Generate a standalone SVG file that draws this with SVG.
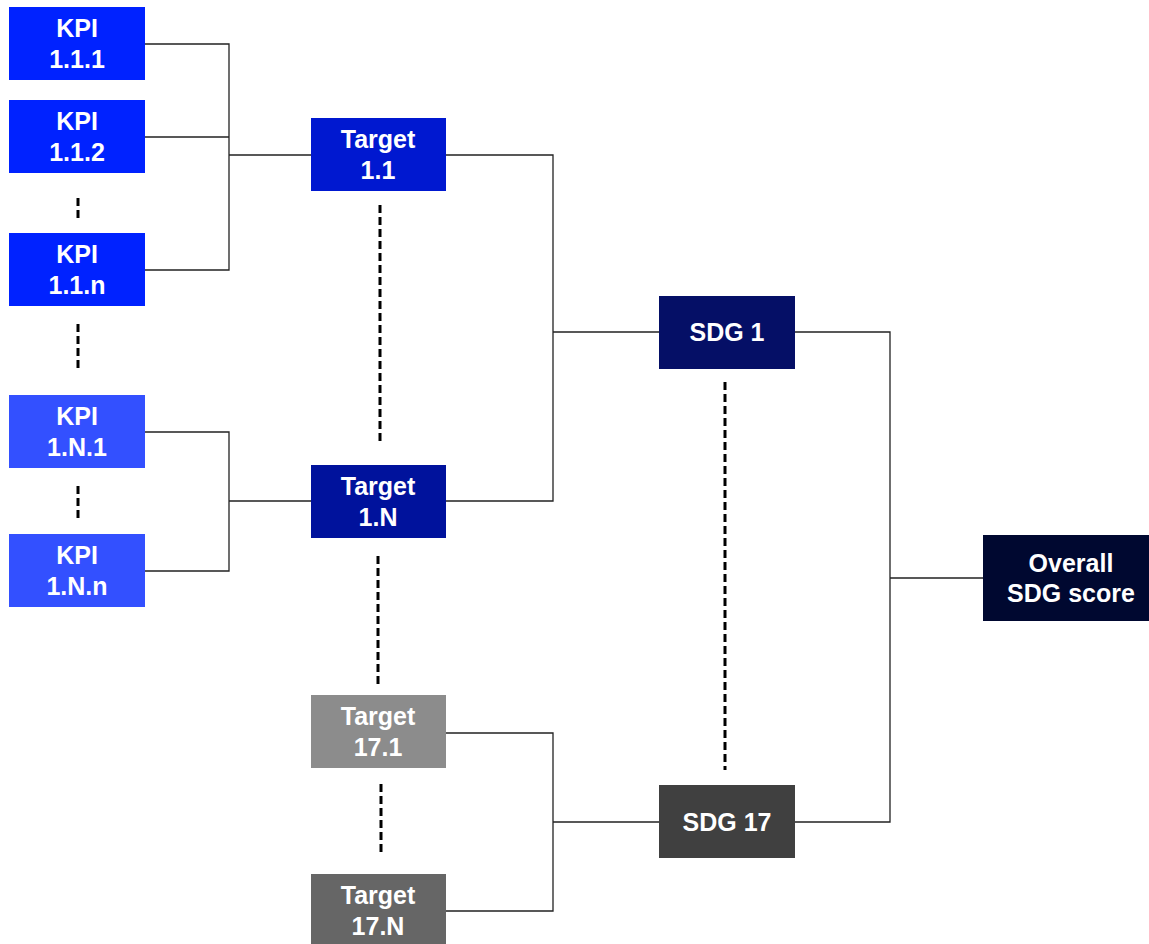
<svg xmlns="http://www.w3.org/2000/svg" width="1149" height="944" viewBox="0 0 1149 944">
<style>
text{font-family:"Liberation Sans",Arial,sans-serif;font-weight:bold;font-size:25px;fill:#fff;text-anchor:middle}
.c{stroke:#222;stroke-width:1.3;fill:none}
.d{stroke:#000;stroke-width:3;stroke-dasharray:8,4;fill:none}
</style>
<rect width="1149" height="944" fill="#fff"/>
<g id="connectors">
<path class="c" d="M145,44H229V270H145M145,137H229M229,155H311"/>
<path class="c" d="M145,432H229V571H145M229,501H311"/>
<path class="c" d="M445,155H553V501H445M553,332H659"/>
<path class="c" d="M445,733H553V911H445M553,822H659"/>
<path class="c" d="M795,332H890V822H795M890,578H983"/>
<path class="d" d="M78,198V222M78,324V372M78,486V520M380,205V444M378,556V687M381,784V856M725,382V770"/>
</g>
<g id="kpi111"><rect x="9" y="7" width="136" height="73" fill="#0022FF"/><text x="77" y="37">KPI</text><text x="77" y="68">1.1.1</text></g>
<g id="kpi112"><rect x="9" y="100" width="136" height="73" fill="#0022FF"/><text x="77" y="130">KPI</text><text x="77" y="161">1.1.2</text></g>
<g id="kpi11n"><rect x="9" y="233" width="136" height="73" fill="#0022FF"/><text x="77" y="263">KPI</text><text x="77" y="294">1.1.n</text></g>
<g id="kpi1N1"><rect x="9" y="395" width="136" height="73" fill="#3350FF"/><text x="77" y="425">KPI</text><text x="77" y="456">1.N.1</text></g>
<g id="kpi1Nn"><rect x="9" y="534" width="136" height="73" fill="#3350FF"/><text x="77" y="564">KPI</text><text x="77" y="595">1.N.n</text></g>
<g id="t11"><rect x="311" y="118" width="135" height="73" fill="#0018D0"/><text x="378" y="148">Target</text><text x="378" y="179">1.1</text></g>
<g id="t1N"><rect x="311" y="465" width="135" height="73" fill="#00129C"/><text x="378" y="495">Target</text><text x="378" y="526">1.N</text></g>
<g id="t171"><rect x="311" y="695" width="135" height="73" fill="#8C8C8C"/><text x="378" y="725">Target</text><text x="378" y="756">17.1</text></g>
<g id="t17N"><rect x="311" y="874" width="135" height="73" fill="#666666"/><text x="378" y="904">Target</text><text x="378" y="935">17.N</text></g>
<g id="sdg1"><rect x="659" y="296" width="136" height="73" fill="#050F66"/><text x="727" y="341">SDG 1</text></g>
<g id="sdg17"><rect x="659" y="785" width="136" height="73" fill="#404040"/><text x="727" y="831">SDG 17</text></g>
<g id="overall"><rect x="983" y="535" width="166" height="86" fill="#000830"/><text x="1071" y="572">Overall</text><text x="1071" y="602">SDG score</text></g>
</svg>
